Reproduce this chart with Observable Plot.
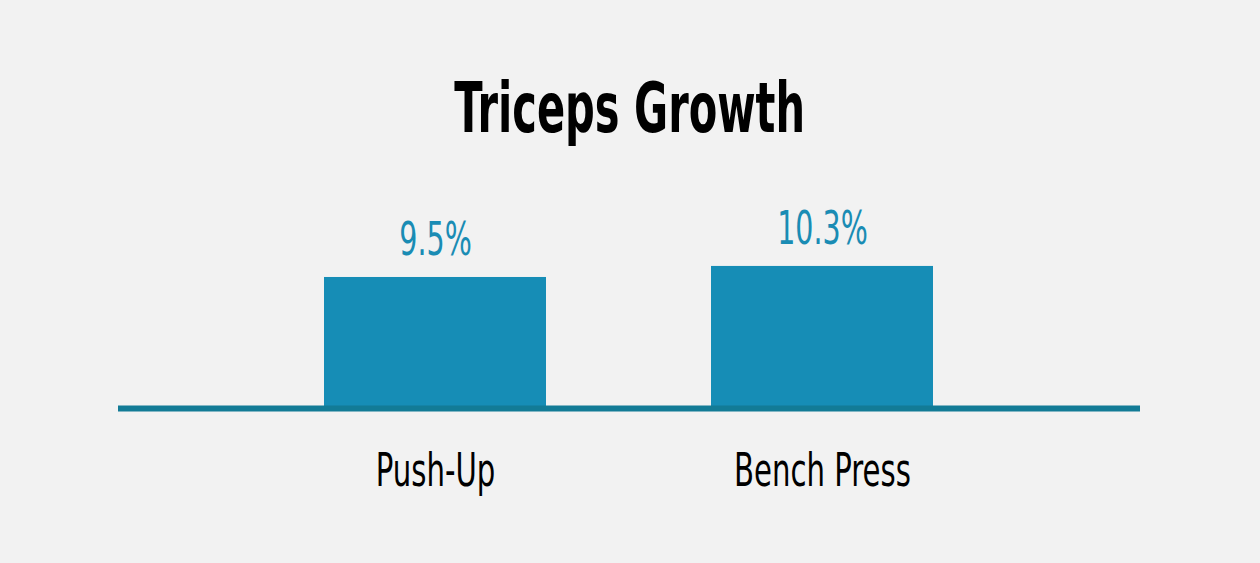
<!DOCTYPE html>
<html>
<head>
<meta charset="utf-8">
<script src="https://cdn.jsdelivr.net/npm/d3@7"></script>
<script src="https://cdn.jsdelivr.net/npm/@observablehq/plot@0.6"></script>
<style>
  html, body { margin: 0; padding: 0; background: #f2f2f2; width: 1260px; height: 563px; overflow: hidden; }
  #title {
    box-sizing: border-box; height: 160px; padding-top: 73px; line-height: 70px;
    font-family: "DejaVu Sans Condensed", "DejaVu Sans", sans-serif;
    font-weight: bold; font-size: 70px; color: #000; text-align: center;
    transform: scaleX(0.66); transform-origin: 629px 0;
  }
  svg { display: block; }
</style>
</head>
<body>
<div id="title">Triceps Growth</div>
<div id="chart"></div>
<script>
const categories = ["Push-Up", "Bench Press"];
const values = [9.5, 10.3];
const valueLabels = ["9.5%", "10.3%"];

const data = categories.map((c, i) => ({category: c, value: values[i], label: valueLabels[i]}));

const chart = Plot.plot({
  width: 1260,
  height: 403,
  marginLeft: 118,
  marginRight: 120,
  marginTop: 82.5,
  marginBottom: 155,
  style: {background: "transparent", fontFamily: "'DejaVu Sans Condensed', 'DejaVu Sans', sans-serif"},
  x: {domain: categories, paddingInner: 0.426, paddingOuter: 0.533, axis: null},
  y: {domain: [0, 12], axis: null},
  marks: [
    Plot.barY(data, {x: "category", y: "value", fill: "#168db6"}),
    Plot.ruleY([0], {stroke: "#127b96", strokeWidth: 6}),
    Plot.text(data, {x: "category", y: "value", text: "label", dy: -37, fontSize: 46, fill: "#1a8cb4"}),
    Plot.text(data, {x: "category", y: () => 0, text: "category", dy: 62, fontSize: 47, fill: "#000"})
  ]
});
// condense glyphs horizontally around each label's anchor
chart.querySelectorAll("text").forEach(t => {
  const tr = t.getAttribute("transform") || "";
  t.setAttribute("transform", tr + " scale(0.69,1)");
});
document.getElementById("chart").appendChild(chart);
</script>
</body>
</html>
